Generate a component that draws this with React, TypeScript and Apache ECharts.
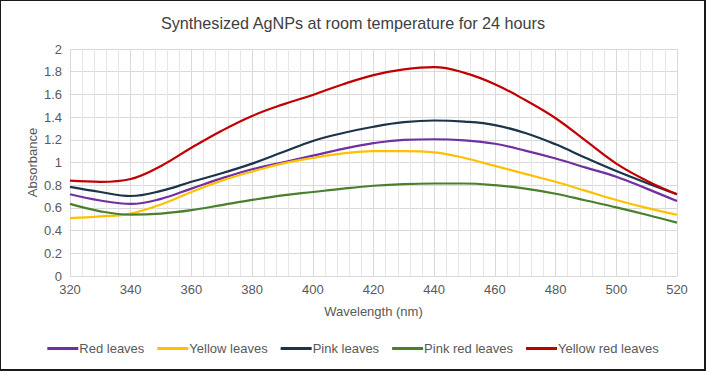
import React, { useEffect, useRef } from "react";
import * as echarts from "echarts";

const wavelengths = [320, 330, 340, 350, 360, 370, 380, 390, 400, 410, 420, 430, 440, 450, 460, 470, 480, 490, 500, 510, 520];
const redLeaves = [0.72, 0.665, 0.635, 0.68, 0.77, 0.86, 0.94, 1.0, 1.06, 1.12, 1.17, 1.2, 1.205, 1.195, 1.165, 1.105, 1.035, 0.955, 0.875, 0.77, 0.66];
const yellowLeaves = [0.51, 0.525, 0.55, 0.63, 0.74, 0.84, 0.92, 0.99, 1.04, 1.08, 1.1, 1.1, 1.09, 1.04, 0.97, 0.9, 0.83, 0.75, 0.67, 0.6, 0.54];
const pinkLeaves = [0.785, 0.74, 0.705, 0.75, 0.83, 0.905, 0.99, 1.09, 1.19, 1.26, 1.315, 1.355, 1.37, 1.36, 1.33, 1.26, 1.16, 1.04, 0.925, 0.82, 0.72];
const pinkRedLeaves = [0.635, 0.57, 0.54, 0.55, 0.58, 0.625, 0.67, 0.71, 0.74, 0.77, 0.795, 0.81, 0.815, 0.815, 0.8, 0.77, 0.725, 0.665, 0.605, 0.54, 0.47];
const yellowRedLeaves = [0.84, 0.83, 0.855, 0.97, 1.13, 1.28, 1.41, 1.51, 1.595, 1.69, 1.77, 1.82, 1.84, 1.79, 1.69, 1.55, 1.39, 1.19, 0.99, 0.84, 0.72];

const seriesNames = ["Red leaves", "Yellow leaves", "Pink leaves", "Pink red leaves", "Yellow red leaves"];
const seriesValues = [redLeaves, yellowLeaves, pinkLeaves, pinkRedLeaves, yellowRedLeaves];
const seriesColors = ["#7030a0", "#ffc000", "#1c3349", "#4a7f2c", "#c00000"];

export default function App() {
  const ref = useRef<HTMLDivElement>(null);
  useEffect(() => {
    if (!ref.current) return;
    const chart = echarts.init(ref.current, null, { renderer: "svg" });
    const font = "'Liberation Sans', Arial, sans-serif";
    chart.setOption({
      animation: false,
      textStyle: { fontFamily: font },
      title: {
        text: "Synthesized AgNPs at room temperature for 24 hours",
        left: "center",
        top: 10,
        textStyle: { fontFamily: font, fontSize: 16.2, fontWeight: "normal", color: "#404040" },
      },
      grid: { left: 70, right: 29, top: 49, bottom: 95 },
      xAxis: {
        type: "value",
        min: 320,
        max: 520,
        interval: 20,
        name: "Wavelength (nm)",
        nameLocation: "middle",
        nameGap: 29,
        nameTextStyle: { fontFamily: font, fontSize: 13, color: "#595959" },
        axisLine: { show: false },
        axisTick: { show: false },
        axisLabel: { fontFamily: font, fontSize: 13, color: "#595959", margin: 7 },
        splitLine: { show: true, lineStyle: { color: "#d9d9d9", width: 1 } },
        minorTick: { show: false, splitNumber: 5 },
        minorSplitLine: { show: true, lineStyle: { color: "#e6e6e6", width: 1 } },
      },
      yAxis: {
        type: "value",
        min: 0,
        max: 2,
        interval: 0.2,
        name: "Absorbance",
        nameLocation: "middle",
        nameGap: 31,
        nameMoveOverlap: false,
        nameTextStyle: { fontFamily: font, fontSize: 13, color: "#595959" },
        axisLine: { show: false },
        axisTick: { show: false },
        axisLabel: { fontFamily: font, fontSize: 13, color: "#595959", margin: 8 },
        splitLine: { show: true, lineStyle: { color: "#d9d9d9", width: 1 } },
      },
      legend: {
        bottom: 11,
        left: "center",
        itemWidth: 31,
        itemHeight: 3,
        itemGap: 13,
        icon: "rect",
        textStyle: { fontFamily: font, fontSize: 13, color: "#595959", padding: [0, 0, 0, -4] },
        data: seriesNames,
      },
      series: seriesNames.map((name, i) => ({
        name,
        type: "line",
        smooth: 0.4,
        showSymbol: false,
        symbol: "none",
        color: seriesColors[i],
        lineStyle: { color: seriesColors[i], width: 2.2 },
        data: wavelengths.map((w, j) => [w, seriesValues[i][j]]),
      })),
    });
    return () => chart.dispose();
  }, []);
  return (
    <div style={{ position: "absolute", left: 0, top: 0, width: 706, height: 371, background: "#fff" }}>
      <div ref={ref} style={{ position: "absolute", left: 0, top: 0, width: 706, height: 371 }} />
      <div
        style={{
          position: "absolute",
          left: 0,
          top: 0,
          width: 706,
          height: 371,
          boxSizing: "border-box",
          borderStyle: "solid",
          borderColor: "#1a1a1a",
          borderWidth: "1px 2px 2px 1px",
          pointerEvents: "none",
        }}
      />
    </div>
  );
}
